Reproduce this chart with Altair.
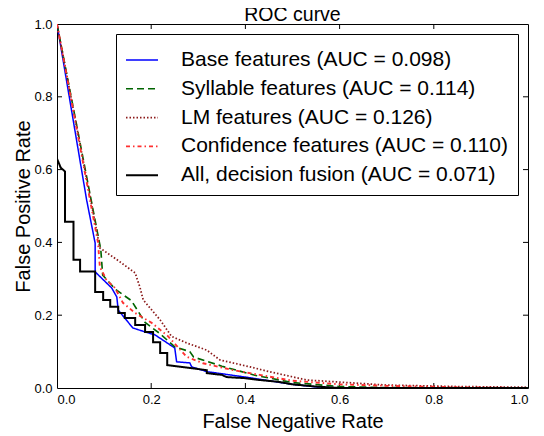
import altair as alt
import pandas as pd

series = [
    "Base features (AUC = 0.098)",
    "Syllable features (AUC = 0.114)",
    "LM features (AUC = 0.126)",
    "Confidence features (AUC = 0.110)",
    "All, decision fusion (AUC = 0.071)",
]
colors = ["#0000ff", "#006400", "#8b1a1a", "#ff3030", "#000000"]
dashes = [[1, 0], [7, 4], [1.5, 2], [4, 3, 1.5, 3], [1, 0]]
widths = [1.5, 2, 2.5, 2.5, 3]

base_x = [0, 0.063, 0.081, 0.081, 0.116, 0.127, 0.130, 0.161, 0.187, 0.208, 0.250, 0.254, 0.282, 0.286, 0.318, 0.40, 0.45, 0.50, 0.55, 0.60, 1.0]
base_y = [1.0, 0.516, 0.398, 0.319, 0.275, 0.250, 0.214, 0.165, 0.154, 0.146, 0.110, 0.072, 0.069, 0.058, 0.045, 0.030, 0.020, 0.010, 0.003, 0.0, 0.0]

syl_x = [0, 0.093, 0.097, 0.125, 0.158, 0.187, 0.218, 0.250, 0.282, 0.290, 0.35, 0.42, 0.50, 0.60, 0.70, 1.0]
syl_y = [1.0, 0.380, 0.310, 0.270, 0.240, 0.180, 0.150, 0.113, 0.100, 0.085, 0.060, 0.035, 0.015, 0.004, 0.001, 0.0]

lm_x = [0, 0.091, 0.130, 0.166, 0.176, 0.183, 0.219, 0.243, 0.275, 0.318, 0.346, 0.41, 0.45, 0.53, 0.59, 0.70, 0.85, 1.0]
lm_y = [1.0, 0.385, 0.350, 0.316, 0.277, 0.242, 0.187, 0.142, 0.124, 0.104, 0.077, 0.058, 0.045, 0.022, 0.017, 0.008, 0.004, 0.002]

conf_x = [0, 0.087, 0.091, 0.105, 0.123, 0.140, 0.166, 0.201, 0.236, 0.275, 0.31, 0.374, 0.43, 0.50, 0.60, 0.70, 0.85, 1.0]
conf_y = [1.0, 0.400, 0.333, 0.297, 0.275, 0.234, 0.206, 0.179, 0.142, 0.086, 0.068, 0.049, 0.036, 0.020, 0.010, 0.006, 0.002, 0.0]

all_x = [0, 0.008, 0.017, 0.017, 0.035, 0.035, 0.049, 0.049, 0.081, 0.081, 0.098, 0.098, 0.113, 0.113, 0.130, 0.130,
         0.144, 0.144, 0.166, 0.166, 0.187, 0.187, 0.204, 0.204, 0.219, 0.219, 0.234, 0.234, 0.282, 0.318, 0.318,
         0.35, 0.36, 0.40, 0.43, 0.47, 0.50, 0.55, 0.60, 1.0]
all_y = [0.630, 0.605, 0.595, 0.457, 0.457, 0.352, 0.352, 0.320, 0.320, 0.264, 0.264, 0.242, 0.242, 0.223, 0.223, 0.206,
         0.206, 0.192, 0.192, 0.173, 0.173, 0.154, 0.154, 0.126, 0.126, 0.096, 0.096, 0.063, 0.055, 0.049, 0.041,
         0.036, 0.030, 0.027, 0.022, 0.017, 0.010, 0.004, 0.0, 0.0]

tick_vals = [0.0, 0.2, 0.4, 0.6, 0.8, 1.0]
inner_ticks = [0.2, 0.4, 0.6, 0.8]

rows = []
for name, xs, ys in zip(series, [base_x, syl_x, lm_x, conf_x, all_x], [base_y, syl_y, lm_y, conf_y, all_y]):
    for i, (a, b) in enumerate(zip(xs, ys)):
        rows.append({"series": name, "x": a, "y": b, "idx": i})
df = pd.DataFrame(rows)

FONT = "Liberation Sans"
W, H = 471, 364

xscale = alt.Scale(domain=[0, 1], nice=False, zero=False)
yscale = alt.Scale(domain=[0, 1], nice=False, zero=False)
x_axis = alt.Axis(values=tick_vals, format=".1f", title="False Negative Rate", ticks=False, domain=False,
                  grid=False, labelFontSize=13, titleFontSize=20, labelPadding=5, titlePadding=5,
                  titleFontWeight="normal", labelColor="black", titleColor="black")
y_axis = alt.Axis(values=tick_vals, format=".1f", title="False Positive Rate", ticks=False, domain=False,
                  grid=False, labelFontSize=13, titleFontSize=20, labelPadding=5, titlePadding=0,
                  titleFontWeight="normal", labelColor="black", titleColor="black")

lines = alt.Chart(df).mark_line(clip=True).encode(
    x=alt.X("x:Q", scale=xscale, axis=x_axis),
    y=alt.Y("y:Q", scale=yscale, axis=y_axis),
    color=alt.Color("series:N", scale=alt.Scale(domain=series, range=colors), legend=alt.Legend(title=None)),
    strokeDash=alt.StrokeDash("series:N", scale=alt.Scale(domain=series, range=dashes), legend=alt.Legend(title=None)),
    strokeWidth=alt.StrokeWidth("series:N", scale=alt.Scale(domain=series, range=widths), legend=alt.Legend(title=None)),
    order="idx:Q",
)

tdf = pd.DataFrame({"x": inner_ticks, "y": inner_ticks})
bottom_ticks = alt.Chart(tdf).mark_rule(color="black", strokeWidth=1).encode(
    x=alt.X("x:Q", scale=xscale, axis=x_axis), y=alt.value(H), y2=alt.value(H - 5))
top_ticks = alt.Chart(tdf).mark_rule(color="black", strokeWidth=1).encode(
    x=alt.X("x:Q", scale=xscale, axis=x_axis), y=alt.value(0), y2=alt.value(5))
left_ticks = alt.Chart(tdf).mark_rule(color="black", strokeWidth=1).encode(
    y=alt.Y("y:Q", scale=yscale, axis=y_axis), x=alt.value(0), x2=alt.value(5))
right_ticks = alt.Chart(tdf).mark_rule(color="black", strokeWidth=1).encode(
    y=alt.Y("y:Q", scale=yscale, axis=y_axis), x=alt.value(W), x2=alt.value(W - 5))

chart = alt.layer(bottom_ticks, top_ticks, left_ticks, right_ticks, lines).properties(
    width=W, height=H,
    title=alt.Title("ROC curve", fontSize=19.5, font=FONT, fontWeight="normal", anchor="middle",
                    baseline="alphabetic", offset=-8, dy=14.5, color="black"),
    autosize="none",
    padding={"left": 49, "top": 16, "right": 8, "bottom": 48},
).configure_view(
    stroke="black", strokeWidth=1
).configure_axis(
    labelFont=FONT, titleFont=FONT
).configure_legend(
    orient="none", legendX=59, legendY=10, labelFont=FONT, labelFontSize=21, labelColor="black",
    symbolType="stroke", symbolSize=1024, labelOffset=22, labelLimit=500, padding=9,
    rowPadding=1.8, strokeColor="black", fillColor="white", cornerRadius=0, strokeWidth=1,
)

chart.save("out.html", embed_options={"renderer": "svg", "actions": False})
